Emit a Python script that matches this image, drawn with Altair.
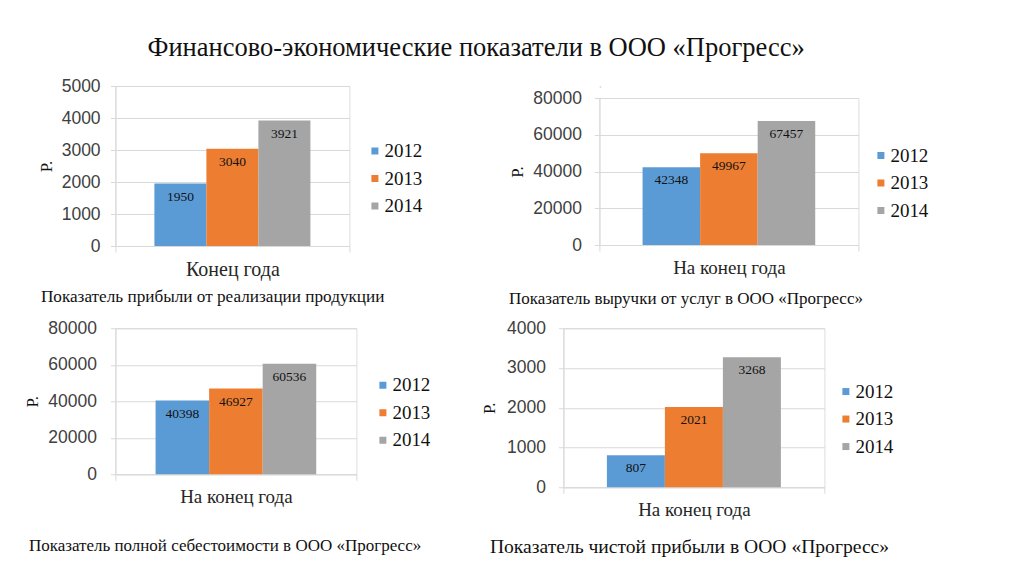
import altair as alt
import pandas as pd

# ---------------- data ----------------
years = ["2012", "2013", "2014"]
bar_colors = ["#5B9BD5", "#ED7D31", "#A5A5A5"]

main_title = "Финансово-экономические показатели в ООО «Прогресс»"
y_title = "Р."

profit_sales = [1950, 3040, 3921]
revenue_services = [42348, 49967, 67457]
full_cost = [40398, 46927, 60536]
net_profit = [807, 2021, 3268]

category_1 = "Конец года"
category_2 = "На конец года"
category_3 = "На конец года"
category_4 = "На конец года"

caption_1 = "Показатель прибыли от реализации продукции"
caption_2 = "Показатель выручки от услуг в ООО «Прогресс»"
caption_3 = "Показатель полной себестоимости в ООО «Прогресс»"
caption_4 = "Показатель чистой прибыли в ООО «Прогресс»"

ticks_1 = [0, 1000, 2000, 3000, 4000, 5000]
ticks_2 = [0, 20000, 40000, 60000, 80000]
ticks_3 = [0, 20000, 40000, 60000, 80000]
ticks_4 = [0, 1000, 2000, 3000, 4000]

# ---------------- style ----------------
SERIF = "Liberation Serif"
SANS = "Liberation Sans"
GRID = "#D9D9D9"


def panel(values, category, caption, ticks, W, H, lab_pad, title_pad,
          cat_size, cap_x, cap_y, cap_size, leg_x, leg_y):
    df = pd.DataFrame({
        "cat": [category] * len(years),
        "year": years,
        "value": values,
        "label": [str(v) for v in values],
    })
    x = alt.X(
        "cat:N", title=caption,
        scale=alt.Scale(paddingInner=0, paddingOuter=0),
        axis=alt.Axis(
            labelAngle=0, labelFont=SERIF, labelFontSize=cat_size,
            labelColor="#262626", labelPadding=7.5,
            tickBand="extent", tickSize=6, tickColor=GRID,
            domainColor=GRID, grid=False,
            titleFont=SERIF, titleFontSize=cap_size, titleFontWeight="normal",
            titleColor="#111111", titleX=cap_x, titleY=cap_y,
            titleAlign="left", titleBaseline="middle", titleAnchor="start",
        ),
    )
    xo = alt.XOffset("year:N", scale=alt.Scale(paddingInner=0, paddingOuter=0.75))
    y = alt.Y(
        "value:Q", title=y_title,
        scale=alt.Scale(domain=[ticks[0], ticks[-1]], nice=False),
        axis=alt.Axis(
            values=ticks, format="d", labelFont=SANS, labelFontSize=17.5,
            labelColor="#404040", labelPadding=lab_pad,
            tickSize=5, tickColor=GRID, domainColor=GRID, gridColor=GRID,
            titleFont=SERIF, titleFontSize=17, titleFontWeight="normal",
            titleColor="#111111", titlePadding=title_pad,
        ),
    )
    color = alt.Color(
        "year:N",
        scale=alt.Scale(domain=years, range=bar_colors),
        legend=alt.Legend(
            title=None, orient="none", legendX=leg_x, legendY=leg_y,
            symbolType="square", symbolSize=49, symbolStrokeWidth=0,
            labelFont=SERIF, labelFontSize=19, labelColor="#111111",
            labelOffset=0, rowPadding=7.5, padding=0,
        ),
    )
    base = alt.Chart(df)
    bars = base.mark_bar().encode(x=x, xOffset=xo, y=y, color=color)
    labels = base.mark_text(
        font=SERIF, fontSize=13.5, color="#111111", baseline="middle", dy=13
    ).encode(x=x, xOffset=xo, y=y, text="label:N")
    return alt.layer(bars, labels).properties(width=W, height=H)


def spacer(h):
    # an empty view (no data drawn) used only to push the panel below it down
    return alt.Chart(pd.DataFrame({"s": [0]})).transform_filter(
        "datum.s > 1"
    ).mark_point().encode(
        x=alt.value(0), y=alt.value(0)
    ).properties(width=1, height=h)


def indep(c):
    return c.resolve_scale(
        x="independent", y="independent", color="independent", xOffset="independent"
    ).resolve_legend(color="independent")


p1 = panel(profit_sales, category_1, caption_1, ticks_1,
           W=234, H=160, lab_pad=10.3, title_pad=6, cat_size=20,
           cap_x=-75, cap_y=50.7, cap_size=17.2, leg_x=250, leg_y=55.5)
p2 = panel(revenue_services, category_2, caption_2, ticks_2,
           W=259, H=147, lab_pad=13, title_pad=6, cat_size=19,
           cap_x=-91, cap_y=54, cap_size=17, leg_x=272, leg_y=48)
p3 = panel(full_cost, category_3, caption_3, ticks_3,
           W=241, H=146, lab_pad=14, title_pad=6, cat_size=19,
           cap_x=-87, cap_y=71, cap_size=17, leg_x=258, leg_y=47.5)
p4 = panel(net_profit, category_4, caption_4, ticks_4,
           W=261, H=159, lab_pad=13, title_pad=7.5, cat_size=19,
           cap_x=-74, cap_y=59, cap_size=19.6, leg_x=273, leg_y=53.8)

g2 = indep(alt.vconcat(spacer(1), p2, spacing=0))
row1 = indep(alt.hconcat(p1, g2, spacing=84))
row2 = indep(alt.hconcat(p3, p4, spacing=49))

chart = indep(alt.vconcat(row1, row2, spacing=10.25)).properties(
    title=alt.TitleParams(
        main_title, font=SERIF, fontSize=26.5, fontWeight="normal",
        color="#111111", anchor="middle", offset=15.5,
    ),
    padding={"left": 14.4, "top": 26, "right": 5, "bottom": 5},
).configure_view(stroke=None).configure(background="white")

chart.save("out.html", embed_options={"renderer": "svg", "actions": False})
